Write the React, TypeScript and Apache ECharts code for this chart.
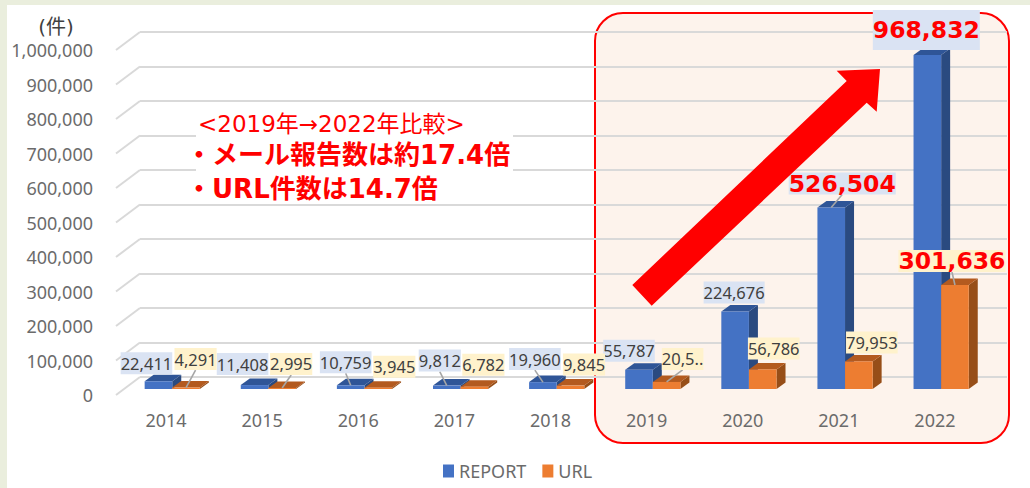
import React, { useEffect, useRef } from "react";
import * as echarts from "echarts";

const years = ["2014", "2015", "2016", "2017", "2018", "2019", "2020", "2021", "2022"];
const reportValues = [22411, 11408, 10759, 9812, 19960, 55787, 224676, 526504, 968832];
const urlValues = [4291, 2995, 3945, 6782, 9845, 20519, 56786, 79953, 301636];
const reportLabels = ["22,411", "11,408", "10,759", "9,812", "19,960", "55,787", "224,676", "526,504", "968,832"];
const urlLabels = ["4,291", "2,995", "3,945", "6,782", "9,845", "20,5..", "56,786", "79,953", "301,636"];
const yTicks = [0, 100000, 200000, 300000, 400000, 500000, 600000, 700000, 800000, 900000, 1000000];

// label placement relative to the top of each bar
const reportOffsets = [[-12, -18], [-12, -21], [-5, -23], [-7, -25], [-8, -23], [-10, -19], [-1, -19], [11, -24], [-1, -25]];
const urlOffsets = [[9.5, -28.5], [9, -24], [16, -21], [9, -22], [13.5, -21], [16, -23], [11, -21], [13, -19], [-3, -24]];
const reportLeaders = [false, false, true, true, true, false, false, true, false];
const urlLeaders = [true, true, false, false, false, true, false, false, true];
const reportEmphasis = [false, false, false, false, false, false, false, true, true];
const urlEmphasis = [false, false, false, false, false, false, false, false, true];

const FONT = '"Noto Sans", sans-serif';
const WIDE = '"DejaVu Sans", "Noto Sans CJK JP", sans-serif';
const CJK = '"Noto Sans CJK JP", sans-serif';
const DEPTH_X = 9;
const DEPTH_Y = 6.5;
const BAR_RATIO = 27.6 / 96.1;

const barRenderer =
  (side: -1 | 1, labels: string[], offsets: number[][], leaders: boolean[], emphasis: boolean[], c: any) =>
  (params: any, api: any) => {
    const i = api.value(0);
    const v = api.value(1);
    const band = api.size([1, 0])[0];
    const w = band * BAR_RATIO;
    const [cx, top] = api.coord([i, v]);
    const [, base] = api.coord([i, 0]);
    const x0 = side < 0 ? cx - w : cx;
    const x1 = x0 + w;
    const midX = (x0 + x1) / 2;
    const [dx, dy] = offsets[i];
    const tx = midX + dx;
    const ty = top + dy;
    const big = emphasis[i];
    const tallBox = big && i === 8 && side < 0;
    const children: any[] = [
      {
        type: "polygon",
        shape: { points: [[x1, base], [x1 + DEPTH_X, base - DEPTH_Y], [x1 + DEPTH_X, top - DEPTH_Y], [x1, top]] },
        style: { fill: c.side },
      },
      {
        type: "polygon",
        shape: { points: [[x0, top], [x0 + DEPTH_X, top - DEPTH_Y], [x1 + DEPTH_X, top - DEPTH_Y], [x1, top]] },
        style: { fill: c.top },
      },
      { type: "rect", shape: { x: x0, y: top, width: w, height: base - top }, style: { fill: c.front } },
    ];
    if (leaders[i]) {
      children.push({
        type: "line",
        shape: { x1: midX, y1: top, x2: tx, y2: ty + 11 },
        style: { stroke: "#a6a6a6", lineWidth: 1.6 },
      });
    }
    children.push({
      type: "text",
      style: {
        text: labels[i],
        x: tx,
        y: ty,
        align: "center",
        verticalAlign: "middle",
        fill: big ? "#ff0000" : "#404040",
        font: big ? `bold 23.5px "DejaVu Sans", sans-serif` : `16.5px ${FONT}`,
        lineHeight: tallBox ? 40 : 22,
        backgroundColor: c.label,
      },
    });
    return { type: "group", children };
  };

export default function App() {
  const ref = useRef<HTMLDivElement>(null);
  useEffect(() => {
    const chart = echarts.init(ref.current!, undefined, { renderer: "svg" });
    const axisText = { color: "#6b6b6b", fontFamily: FONT, fontSize: 18 };
    chart.setOption({
      animation: false,
      backgroundColor: "#eaeedd",
      grid: [
        { left: 140, top: 32, width: 867, height: 345 },
        { left: 118, top: 50, width: 865, height: 345 },
        { left: 124.2, top: 44.3, width: 865, height: 344.7 },
      ],
      xAxis: [
        { gridIndex: 0, type: "category", data: years, show: false },
        {
          gridIndex: 1,
          type: "category",
          data: years,
          axisLine: { show: false },
          axisTick: { show: false },
          axisLabel: { ...axisText, margin: 16 },
        },
        { gridIndex: 2, type: "category", data: years, show: false },
      ],
      yAxis: [
        {
          gridIndex: 0,
          type: "value",
          min: 0,
          max: 1000000,
          interval: 100000,
          axisLine: { show: false },
          axisTick: { show: false },
          axisLabel: { show: false },
          splitLine: { show: true, lineStyle: { color: "#d9d9d9", width: 2 } },
        },
        {
          gridIndex: 1,
          type: "value",
          min: 0,
          max: 1000000,
          interval: 100000,
          axisLine: { show: false },
          axisTick: { show: false },
          splitLine: { show: false },
          axisLabel: {
            ...axisText,
            margin: 25,
            formatter: (v: number) => v.toLocaleString("en-US"),
          },
        },
        { gridIndex: 2, type: "value", min: 0, max: 1000000, show: false, splitLine: { show: false } },
      ],
      legend: {
        left: 438,
        top: 457,
        itemWidth: 11,
        itemHeight: 13,
        itemGap: 16,
        icon: "rect",
        data: ["REPORT", "URL"],
        textStyle: { color: "#6b6b6b", fontFamily: FONT, fontSize: 18 },
        selectedMode: false,
      },
      series: [
        {
          type: "custom",
          name: "walls",
          xAxisIndex: 0,
          yAxisIndex: 0,
          silent: true,
          clip: false,
          data: yTicks.map((t) => [0, t]),
          renderItem: (params: any, api: any) => {
            const y = api.coord([0, api.value(1)])[1];
            const x = params.coordSys.x;
            return {
              type: "line",
              shape: { x1: x, y1: y, x2: x - 24, y2: y + 18 },
              style: { stroke: "#d9d9d9", lineWidth: 2 },
            };
          },
        },
        {
          type: "custom",
          name: "REPORT",
          xAxisIndex: 2,
          yAxisIndex: 2,
          z: 3,
          silent: true,
          clip: false,
          itemStyle: { color: "#4472c4" },
          data: reportValues.map((v, i) => [i, v]),
          renderItem: barRenderer(-1, reportLabels, reportOffsets, reportLeaders, reportEmphasis, {
            front: "#4472c4",
            top: "#2f5597",
            side: "#2a4a80",
            label: "#dae3f3",
          }),
        },
        {
          type: "custom",
          name: "URL",
          xAxisIndex: 2,
          yAxisIndex: 2,
          z: 4,
          silent: true,
          clip: false,
          itemStyle: { color: "#ed7d31" },
          data: urlValues.map((v, i) => [i, v]),
          renderItem: barRenderer(1, urlLabels, urlOffsets, urlLeaders, urlEmphasis, {
            front: "#ed7d31",
            top: "#b35a1f",
            side: "#974e18",
            label: "#fff2cc",
          }),
        },
      ],
      graphic: [
        { type: "rect", z: -3, shape: { x: 7, y: 5, width: 1023, height: 483 }, style: { fill: "#ffffff" } },
        {
          type: "rect",
          z: -2,
          shape: { x: 595, y: 13, width: 414, height: 430, r: 28 },
          style: { fill: "#fdf3ec", stroke: "#ff0000", lineWidth: 2 },
        },
        {
          type: "polygon",
          z: 10,
          shape: {
            points: [
              [632.3, 285],
              [651.7, 305.7],
              [866.7, 102.7],
              [876.7, 111.7],
              [880, 69],
              [836.7, 70.7],
              [846.7, 81],
            ],
          },
          style: { fill: "#ff0000" },
        },
        { type: "rect", z: 1, shape: { x: 196, y: 110, width: 317, height: 91 }, style: { fill: "#ffffff" } },
        {
          type: "text",
          z: 11,
          style: { text: "<2019年→2022年比較>", x: 198, y: 124, verticalAlign: "middle", fill: "#ff0000", font: `23px ${WIDE}` },
        },
        {
          type: "text",
          z: 11,
          style: { text: "・メール報告数は約17.4倍", x: 186, y: 155, verticalAlign: "middle", fill: "#ff0000", font: `bold 26px ${WIDE}` },
        },
        {
          type: "text",
          z: 11,
          style: { text: "・URL件数は14.7倍", x: 186, y: 189, verticalAlign: "middle", fill: "#ff0000", font: `bold 26px ${WIDE}` },
        },
        {
          type: "text",
          z: 11,
          style: { text: "(件)", x: 56, y: 27, align: "center", verticalAlign: "middle", fill: "#404040", font: `20px ${WIDE}` },
        },
      ],
    });
    return () => chart.dispose();
  }, []);
  return <div ref={ref} style={{ width: 1030, height: 488, position: "absolute", left: 0, top: 0 }} />;
}
